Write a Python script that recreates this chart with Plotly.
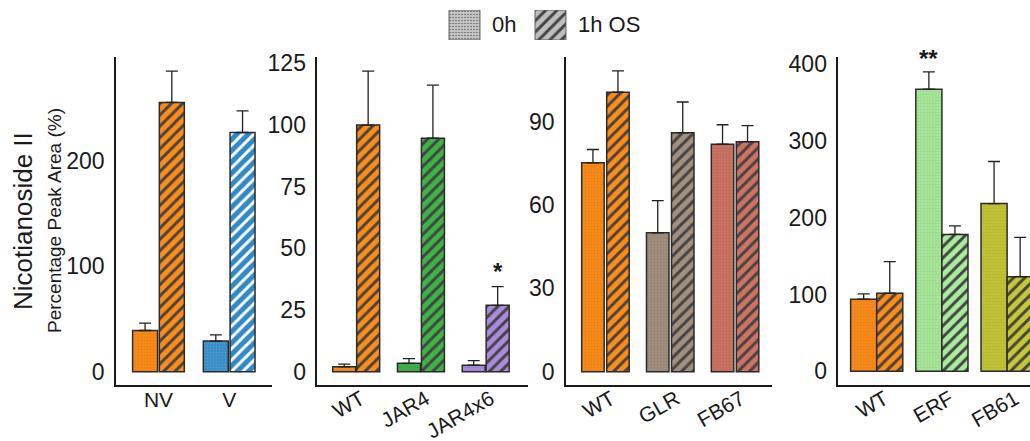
import plotly.graph_objects as go

W, H = 1030, 441

# ---------------- data ----------------
p1_cats = ["NV", "V"]
p1_0h = [39, 29]
p1_0h_err = [7, 5.8]
p1_1h = [255, 226.5]
p1_1h_err = [29.6, 20.5]

p2_cats = ["WT", "JAR4", "JAR4x6"]
p2_0h = [2.0, 3.4, 2.6]
p2_0h_err = [1.1, 1.9, 1.9]
p2_1h = [100.0, 94.7, 26.9]
p2_1h_err = [21.9, 21.5, 7.6]

p3_cats = ["WT", "GLR", "FB67"]
p3_0h = [75.2, 50.0, 81.9]
p3_0h_err = [4.8, 11.6, 7.0]
p3_1h = [100.6, 86.0, 82.8]
p3_1h_err = [7.7, 11.1, 5.8]

p4_cats = ["WT", "ERF", "FB61"]
p4_0h = [93.9, 367.6, 218.4]
p4_0h_err = [6.9, 22.4, 54.9]
p4_1h = [101.7, 178.2, 123.2]
p4_1h_err = [41.0, 11.2, 51.1]

legend_labels = ["0h", "1h OS"]
legend_vals = [1, 1]

# ---------------- styles ----------------
ORANGE = "#FF8C16"
BLUE = "#3189C6"
GREEN = "#3DB447"
PURPLE = "#AC8BDF"
GLRC = "#A38F7D"
FB67C = "#CF7262"
ERFC = "#A9EC9B"
FB61C = "#C6C733"

p1_colors = [ORANGE, BLUE]
p2_colors = [ORANGE, GREEN, PURPLE]
p3_colors = [ORANGE, GLRC, FB67C]
p4_colors = [ORANGE, ERFC, FB61C]

FONT = "Liberation Sans, Arial, sans-serif"
TXT = "#1a1a1a"
XTICK_SIZE = 21
YTICK_SIZE = 23

panels = [
    dict(cats=p1_cats, v0=p1_0h, e0=p1_0h_err, v1=p1_1h, e1=p1_1h_err, colors=p1_colors,
         xdom=[116, 272], xr=[-0.601, 1.605], yr=[-12.6, 298], dt=100, w=0.353, o0=-0.366, o1=0.012,
         angle=0, xstand=-5, xshift=0),
    dict(cats=p2_cats, v0=p2_0h, e0=p2_0h_err, v1=p2_1h, e1=p2_1h_err, colors=p2_colors,
         xdom=[317.3, 528], xr=[-0.598, 2.656], yr=[-5.4, 127.6], dt=25, w=0.355, o0=-0.36, o1=0.01,
         angle=-30, xstand=-8, xshift=5),
    dict(cats=p3_cats, v0=p3_0h, e0=p3_0h_err, v1=p3_1h, e1=p3_1h_err, colors=p3_colors,
         xdom=[566, 771.7], xr=[-0.608, 2.566], yr=[-4.8, 113.3], dt=30, w=0.347, o0=-0.366, o1=0.02,
         angle=-30, xstand=-8, xshift=6),
    dict(cats=p4_cats, v0=p4_0h, e0=p4_0h_err, v1=p4_1h, e1=p4_1h_err, colors=p4_colors,
         xdom=[838.3, 1030], xr=[-0.589, 2.351], yr=[-18, 409.5], dt=100, w=0.4, o0=-0.4, o1=0.0,
         angle=-30, xstand=-8, xshift=8),
]

ydom = [1 - 385 / H, 1 - 57 / H]

DOTS = dict(shape=".", fillmode="overlay", fgcolor="#000000", fgopacity=0.12, size=3, solidity=0.5)
HATCH = dict(shape="/", fillmode="overlay", fgcolor="#3a3a3a", fgopacity=1, size=8, solidity=0.36)

fig = go.Figure()
layout = {}

for i, p in enumerate(panels, start=1):
    xa = "x" if i == 1 else f"x{i}"
    ya = "y" if i == 1 else f"y{i}"
    n = len(p["cats"])
    fig.add_trace(go.Bar(
        x=p["cats"], y=p["v0"], xaxis=xa, yaxis=ya, width=p["w"], offset=p["o0"],
        marker=dict(color=p["colors"], line=dict(color="#2b2b2b", width=1.5), pattern=DOTS),
        error_y=dict(type="data", symmetric=False, array=p["e0"], arrayminus=[0] * n,
                     color="#222", thickness=1.3, width=6),
        showlegend=False, hoverinfo="skip"))
    fig.add_trace(go.Bar(
        x=p["cats"], y=p["v1"], xaxis=xa, yaxis=ya, width=p["w"], offset=p["o1"],
        marker=dict(color=p["colors"], line=dict(color="#2b2b2b", width=1.5), pattern=HATCH),
        error_y=dict(type="data", symmetric=False, array=p["e1"], arrayminus=[0] * n,
                     color="#222", thickness=1.3, width=6),
        showlegend=False, hoverinfo="skip"))
    xkey = "xaxis" if i == 1 else f"xaxis{i}"
    ykey = "yaxis" if i == 1 else f"yaxis{i}"
    layout[xkey] = dict(domain=[p["xdom"][0] / W, p["xdom"][1] / W], anchor=ya, type="category",
                        range=p["xr"], showline=True, linecolor="#1a1a1a", linewidth=1.5, automargin=False,
                        showgrid=False, zeroline=False, ticks="", tickangle=p["angle"],
                        tickfont=dict(family=FONT, size=XTICK_SIZE, color=TXT),
                        ticklabelstandoff=p["xstand"], ticklabelshift=p["xshift"])
    layout[ykey] = dict(domain=ydom, anchor=xa, range=p["yr"], dtick=p["dt"], tick0=0, automargin=False,
                        showline=True, linecolor="#1a1a1a", linewidth=1.5,
                        showgrid=False, zeroline=False, ticks="",
                        tickfont=dict(family=FONT, size=YTICK_SIZE, color=TXT), ticklabelstandoff=5)

# legend drawn as a small bar chart
fig.add_trace(go.Bar(
    x=legend_labels, y=legend_vals, xaxis="x5", yaxis="y5", width=0.36,
    marker=dict(color=["#C8C8C8", "#BEBEBE"], line=dict(color="#606060", width=1),
                pattern=dict(shape=[".", "/"], fillmode="overlay", fgcolor=["#000000", "#444444"],
                             fgopacity=1, size=[3, 8], solidity=[0.15, 0.36])),
    showlegend=False, hoverinfo="skip"))
layout["xaxis5"] = dict(domain=[421.5 / W, 593.5 / W], anchor="y5", type="category", range=[-0.5, 1.5],
                        visible=False, automargin=False)
layout["yaxis5"] = dict(domain=[1 - 40 / H, 1 - 10 / H], anchor="x5", range=[0, 1], visible=False,
                        automargin=False)

annotations = []
for k, lab in enumerate(legend_labels):
    annotations.append(dict(x=k + 0.3, y=0.5, xref="x5", yref="y5", text=lab, showarrow=False,
                            xanchor="left", yanchor="middle", font=dict(family=FONT, size=22, color=TXT)))

# significance marks
annotations.append(dict(x=2 + 0.01 + 0.355 / 2, y=p2_1h[2] + p2_1h_err[2], xref="x2", yref="y2", text="<b>*</b>",
                        showarrow=False, yanchor="bottom", yshift=0,
                        font=dict(family=FONT, size=24, color=TXT)))
annotations.append(dict(x=1 - 0.2, y=p4_0h[1] + p4_0h_err[1], xref="x4", yref="y4", text="<b>**</b>",
                        showarrow=False, yanchor="bottom", yshift=-2,
                        font=dict(family=FONT, size=24, color=TXT)))

# y titles
annotations.append(dict(x=23 / W, y=1 - 221 / H, xref="paper", yref="paper", text="Nicotianoside II",
                        textangle=-90, showarrow=False, xanchor="center", yanchor="middle",
                        font=dict(family=FONT, size=26, color=TXT)))
annotations.append(dict(x=55 / W, y=1 - 221 / H, xref="paper", yref="paper", text="Percentage Peak Area (%)",
                        textangle=-90, showarrow=False, xanchor="center", yanchor="middle",
                        font=dict(family=FONT, size=19, color=TXT)))

fig.update_layout(**layout)
fig.update_layout(
    template="none",
    width=W, height=H, margin=dict(l=0, r=0, t=0, b=0, autoexpand=False),
    paper_bgcolor="white", plot_bgcolor="white", barmode="overlay",
    annotations=annotations, font=dict(family=FONT, color=TXT),
)

fig.write_html("out.html")
